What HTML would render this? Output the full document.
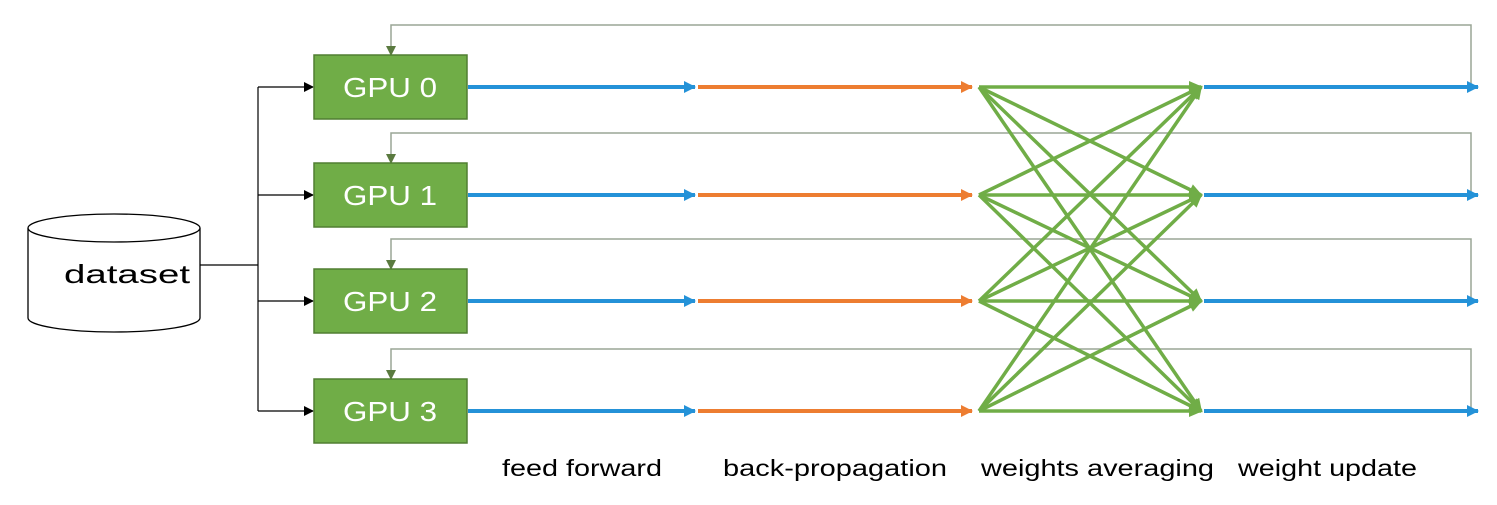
<!DOCTYPE html>
<html><head><meta charset="utf-8"><style>
body{margin:0;background:#fff;}
svg{display:block;font-family:"Liberation Sans",sans-serif;}
</style></head><body>
<svg width="1497" height="505" viewBox="0 0 1497 505">
<defs>
<marker id="ab" markerWidth="10" markerHeight="10" refX="9" refY="5" orient="auto" markerUnits="userSpaceOnUse"><path d="M0,0 L10,5 L0,10z" fill="#000"/></marker>
<marker id="abl" markerWidth="12" markerHeight="12" refX="11" refY="6" orient="auto" markerUnits="userSpaceOnUse"><path d="M0,0 L12,6 L0,12z" fill="#2492d8"/></marker>
<marker id="aor" markerWidth="12" markerHeight="12" refX="11" refY="6" orient="auto" markerUnits="userSpaceOnUse"><path d="M0,0 L12,6 L0,12z" fill="#ed7d31"/></marker>
<marker id="agr" markerWidth="14" markerHeight="12" refX="12" refY="6" orient="auto" markerUnits="userSpaceOnUse"><path d="M0,0 L14,6 L0,12z" fill="#70ad47"/></marker>
<marker id="afb" markerWidth="10" markerHeight="10" refX="5" refY="9" orient="0" markerUnits="userSpaceOnUse"><path d="M0,0 L10,0 L5,10z" fill="#5a7a3f"/></marker>
</defs>
<g>
<path d="M28,228 L28,318 A86,14 0 0 0 200,318 L200,228" fill="#fff" stroke="#000" stroke-width="1.3"/>
<ellipse cx="114" cy="228" rx="86" ry="14" fill="#fff" stroke="#000" stroke-width="1.3"/>
<text x="64" y="283" font-size="26" textLength="126" lengthAdjust="spacingAndGlyphs">dataset</text>
</g>
<g stroke="#000" stroke-width="1.2" fill="none">
<path d="M200,265 L258,265 M258,87 L258,411"/>
<line x1="258" y1="87" x2="313" y2="87" marker-end="url(#ab)"/>
<line x1="258" y1="195" x2="313" y2="195" marker-end="url(#ab)"/>
<line x1="258" y1="301" x2="313" y2="301" marker-end="url(#ab)"/>
<line x1="258" y1="411" x2="313" y2="411" marker-end="url(#ab)"/>
</g>
<g id="rows"></g>
<g font-size="23" fill="#000">
<text x="502" y="476" textLength="160" lengthAdjust="spacingAndGlyphs">feed forward</text>
<text x="723" y="476" textLength="224" lengthAdjust="spacingAndGlyphs">back-propagation</text>
<text x="981" y="476" textLength="233" lengthAdjust="spacingAndGlyphs">weights averaging</text>
<text x="1238" y="476" textLength="179" lengthAdjust="spacingAndGlyphs">weight update</text>
</g>
</svg>
<script>
const rowsY=[87,195,301,411];
const labels=["GPU 0","GPU 1","GPU 2","GPU 3"];
const g=document.getElementById('rows');
const NS='http://www.w3.org/2000/svg';
function mk(t,a){const e=document.createElementNS(NS,t);for(const k in a)e.setAttribute(k,a[k]);g.appendChild(e);return e;}
rowsY.forEach((y,i)=>{
  const fb=mk('path',{d:`M1471,${y} L1471,${y-62} L391,${y-62} L391,${y-32}`,fill:'none',stroke:'#9aa595','stroke-width':1.5,'marker-end':'url(#afb)'});
  
  
  const r=mk('rect',{x:314,y:y-32,width:153,height:64,fill:'#70ad47',stroke:'#507e32','stroke-width':1.5});
  
  
  const t=mk('text',{x:343,y:y+10,'font-size':28,fill:'#fff',textLength:94,lengthAdjust:'spacingAndGlyphs'});
  t.textContent=labels[i];
  
  
  const b1=mk('line',{x1:468,y1:y,x2:695,y2:y,stroke:'#2492d8','stroke-width':4,'marker-end':'url(#abl)'});
  
  
  const o=mk('line',{x1:698,y1:y,x2:972,y2:y,stroke:'#ed7d31','stroke-width':4,'marker-end':'url(#aor)'});
  
  
  const b2=mk('line',{x1:1204,y1:y,x2:1478,y2:y,stroke:'#2492d8','stroke-width':4,'marker-end':'url(#abl)'});
  
  
});
rowsY.forEach(y1=>{rowsY.forEach(y2=>{
  const l=mk('line',{x1:979,y1:y1,x2:1201,y2:y2,stroke:'#70ad47','stroke-width':3.5,'marker-end':'url(#agr)'});
  
  
});});
</script>
</body></html>
